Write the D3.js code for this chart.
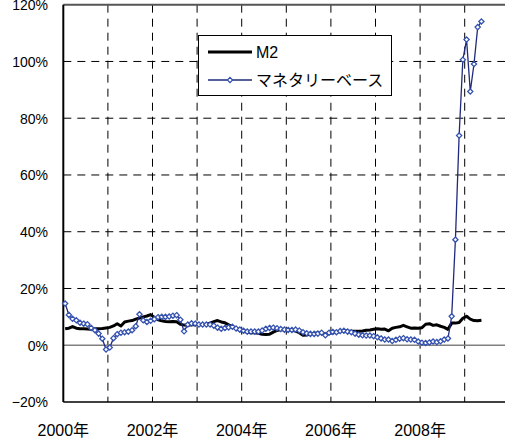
<!doctype html>
<html lang="ja">
  <head>
    <meta charset="UTF-8" />
    <title>M2 / マネタリーベース</title>
    <style>
      body { margin: 0; background: #fff; }
      text { font-family: "Liberation Sans", "Noto Sans CJK JP", sans-serif; fill: #000; }
    </style>
  </head>
  <body>
    <div id="target"></div>
    <script src="https://d3js.org/d3.v7.min.js"></script>
    <script>
      /* global d3 */

      // monthly YoY growth (%), Jan 2000 .. May 2009
      const m2 = [
        5.8, 6.0, 6.6, 6.0, 5.8, 5.8, 5.7, 5.6, 5.8, 5.8, 5.9, 6.1,
        6.3, 6.8, 7.6, 6.8, 8.2, 8.5, 8.7, 9.2, 9.6, 10.0, 10.3, 10.8,
        9.8, 9.0, 8.6, 8.4, 8.3, 8.4, 8.3, 7.4, 7.1, 7.0, 7.2, 7.3,
        7.2, 7.3, 7.4, 7.8, 8.3, 8.7, 8.2, 7.9, 7.2, 6.5, 5.9, 5.3,
        4.9, 4.6, 4.4, 4.4, 4.2, 3.9, 3.8, 3.9, 4.6, 5.2, 5.5, 5.5,
        5.5, 5.3, 5.0, 4.4, 3.5, 3.6, 4.0, 4.2, 4.3, 4.3, 4.1, 4.3,
        4.4, 4.6, 4.8, 5.2, 5.0, 4.9, 4.9, 4.9, 5.0, 5.3, 5.4, 5.6,
        5.8, 5.6, 5.7, 5.1, 6.0, 6.3, 6.5, 7.0, 6.5, 6.0, 6.1, 6.0,
        6.2, 7.4, 7.6, 7.0, 7.2, 6.7, 6.3, 5.6, 7.8, 7.8, 8.0, 9.5,
        10.2, 9.2, 8.7, 8.6, 8.8
      ];
      const base = [
        14.7, 10.7, 9.3, 8.8, 7.9, 7.6, 7.4, 6.1, 5.3, 4.1, 2.3, -1.5,
        -0.8, 2.5, 3.9, 4.4, 4.6, 4.8, 5.3, 6.7, 10.9, 8.8, 8.2, 8.6,
        9.2, 9.9, 10.0, 10.0, 10.1, 10.4, 10.6, 9.0, 4.9, 7.3, 7.7, 7.6,
        7.3, 7.3, 7.3, 7.3, 6.9, 6.2, 5.8, 6.1, 6.3, 6.5, 5.9, 5.5,
        5.1, 4.8, 4.8, 4.8, 4.8, 5.2, 5.8, 6.1, 6.2, 6.0, 5.7, 5.5,
        5.4, 5.4, 5.5, 5.2, 4.6, 4.2, 4.0, 4.0, 4.1, 4.4, 3.5, 4.4,
        4.7, 4.6, 5.0, 5.1, 4.8, 4.6, 4.1, 3.7, 3.5, 3.4, 3.4, 3.2,
        2.8, 2.4, 2.0, 2.0, 1.5, 1.9, 2.3, 2.5, 2.1, 2.0, 1.9, 1.3,
        0.9, 0.8, 1.0, 1.3, 1.1, 1.4, 2.0, 2.4, 10.2, 37.2, 73.9, 100.6,
        107.7, 89.4, 99.1, 112.1, 114.1
      ];
      const yTicks = [-20, 0, 20, 40, 60, 80, 100, 120];
      const xLabels = [2000, 2002, 2004, 2006, 2008];
      const gridYears = [2001, 2002, 2003, 2004, 2005, 2006, 2007, 2008, 2009];
      const seriesNames = ["M2", "マネタリーベース"];

      const width = 505, height = 439;
      const svg = d3.select("#target").append("svg")
        .attr("width", width).attr("height", height);

      const x = d3.scaleLinear().domain([2000, 2010]).range([63.3, 509.3]);
      const y = d3.scaleLinear().domain([-20, 120]).range([402, 4.7]);
      const mx = (i) => x(2000 + (i + 0.5) / 12);

      // grid
      svg.append("g").selectAll("line").data(yTicks.filter(v => v > 0 && v < 120))
        .join("line")
        .attr("x1", x(2000)).attr("x2", width)
        .attr("y1", d => y(d)).attr("y2", d => y(d))
        .attr("stroke", "#000").attr("stroke-dasharray", "8,6");
      svg.append("g").selectAll("line").data(gridYears)
        .join("line")
        .attr("x1", d => x(d)).attr("x2", d => x(d))
        .attr("y1", y(120)).attr("y2", y(-20))
        .attr("stroke", "#000").attr("stroke-dasharray", "8,6");

      // frame
      svg.append("line").attr("x1", x(2000)).attr("x2", width)
        .attr("y1", y(120)).attr("y2", y(120))
        .attr("stroke", "#555").attr("stroke-width", 2);
      svg.append("line").attr("x1", x(2000)).attr("x2", width)
        .attr("y1", y(0)).attr("y2", y(0))
        .attr("stroke", "#808080").attr("stroke-width", 1.5);
      svg.append("line").attr("x1", x(2000)).attr("x2", width)
        .attr("y1", y(-20)).attr("y2", y(-20))
        .attr("stroke", "#000").attr("stroke-width", 1.5);
      svg.append("line").attr("x1", x(2000)).attr("x2", x(2000))
        .attr("y1", y(120)).attr("y2", y(-20))
        .attr("stroke", "#000").attr("stroke-width", 2);

      // axis labels
      svg.append("g").selectAll("text").data(yTicks).join("text")
        .attr("x", 48).attr("y", d => y(d)).attr("dy", "0.38em")
        .attr("text-anchor", "end").style("font-size", "14px")
        .text(d => (d < 0 ? "\u2212" + (-d) : d) + "%");
      svg.append("g").selectAll("text").data(xLabels).join("text")
        .attr("x", d => x(d)).attr("y", 436)
        .attr("text-anchor", "middle").style("font-size", "16px")
        .text(d => d + "年");

      // series
      const line = d3.line().x((d, i) => mx(i)).y(d => y(d));
      svg.append("path").datum(m2).attr("d", line)
        .attr("fill", "none").attr("stroke", "#000").attr("stroke-width", 3)
        .attr("stroke-linejoin", "round");
      svg.append("path").datum(base).attr("d", line)
        .attr("fill", "none").attr("stroke", "#1f2a7a").attr("stroke-width", 1.3);
      const diamond = (cx, cy, r) => `M${cx},${cy - r}L${cx + r},${cy}L${cx},${cy + r}L${cx - r},${cy}Z`;
      svg.append("g").selectAll("path").data(base).join("path")
        .attr("d", (d, i) => diamond(mx(i), y(d), 2.6))
        .attr("fill", "#fff").attr("stroke", "#3552b0").attr("stroke-width", 1.3);

      // legend
      const lg = svg.append("g");
      lg.append("rect").attr("x", 198.5).attr("y", 35.5).attr("width", 193).attr("height", 60)
        .attr("fill", "#fff").attr("stroke", "#000");
      lg.append("line").attr("x1", 208).attr("x2", 252).attr("y1", 52).attr("y2", 52)
        .attr("stroke", "#000").attr("stroke-width", 3);
      lg.append("line").attr("x1", 208).attr("x2", 252).attr("y1", 80).attr("y2", 80)
        .attr("stroke", "#1f2a7a").attr("stroke-width", 1.3);
      lg.append("path").attr("d", diamond(230, 80, 2.6))
        .attr("fill", "#fff").attr("stroke", "#3552b0").attr("stroke-width", 1.3);
      lg.selectAll("text").data(seriesNames).join("text")
        .attr("x", 256).attr("y", (d, i) => 52 + i * 28).attr("dy", "0.36em")
        .style("font-size", "16px")
        .text(d => d);
    </script>
  </body>
</html>
